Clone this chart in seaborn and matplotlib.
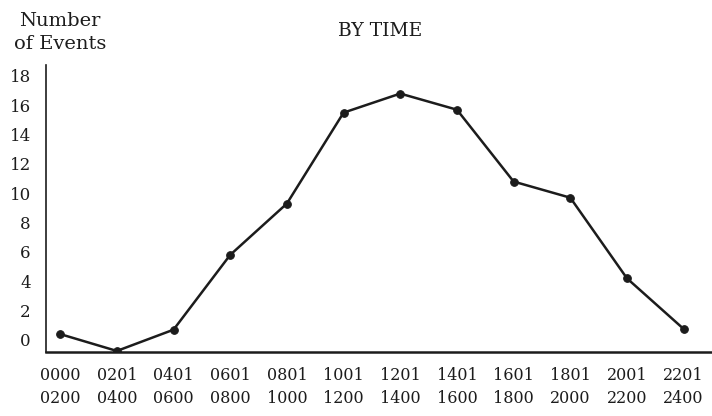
import matplotlib
matplotlib.use("Agg")
import matplotlib.pyplot as plt
import numpy as np
import pandas as pd
import seaborn as sns

# ── Data ──────────────────────────────────────────────────────────────────────

slot_start = ["0000", "0201", "0401", "0601", "0801", "1001",
              "1201", "1401", "1601", "1801", "2001", "2201"]
slot_end   = ["0200", "0400", "0600", "0800", "1000", "1200",
              "1400", "1600", "1800", "2000", "2200", "2400"]
events     = [0.4, -0.75, 0.7, 5.8, 9.3, 15.5, 16.8, 15.7, 10.8, 9.7, 4.2, 0.75]
y_ticks    = [0, 2, 4, 6, 8, 10, 12, 14, 16, 18]

df = pd.DataFrame({"slot": np.arange(len(events)), "events": events})
tick_labels = [f"{a}\n{b}" for a, b in zip(slot_start, slot_end)]

# ── Plot ──────────────────────────────────────────────────────────────────────

sns.set_theme(style="white")
plt.rcParams["font.family"] = ["DejaVu Serif"]

ink = "#1c1c1c"
fig = plt.figure(figsize=(7.12, 4.16), dpi=100)
ax = fig.add_axes([0.0646, 0.1546, 0.9354, 0.6892])

sns.lineplot(data=df, x="slot", y="events", ax=ax, color=ink, linewidth=1.8,
             marker="o", markersize=5.5, markeredgecolor=ink, markerfacecolor=ink)

ax.set_xlim(-0.25, 11.5)
ax.set_ylim(-0.8, 18.75)
ax.set_xticks(df["slot"])
ax.set_xticklabels(tick_labels, fontsize=11.5, color=ink, linespacing=1.45)
ax.set_yticks(y_ticks)
ax.set_yticklabels([str(v) for v in y_ticks], fontsize=12, color=ink)
ax.tick_params(axis="x", length=0, pad=11)
ax.tick_params(axis="y", length=0, pad=11)
ax.set_xlabel("")
ax.set_ylabel("")

sns.despine(ax=ax)
ax.spines["left"].set_color(ink)
ax.spines["left"].set_linewidth(1.2)
ax.spines["bottom"].set_color(ink)
ax.spines["bottom"].set_linewidth(1.8)

fig.text(0.534, 0.925, "BY TIME", ha="center", va="center", fontsize=13.5, color=ink)
fig.text(0.084, 0.922, "Number\nof Events", ha="center", va="center", fontsize=14,
         color=ink, linespacing=1.3, multialignment="center")

fig.savefig("out.png", dpi=100, facecolor="white")
